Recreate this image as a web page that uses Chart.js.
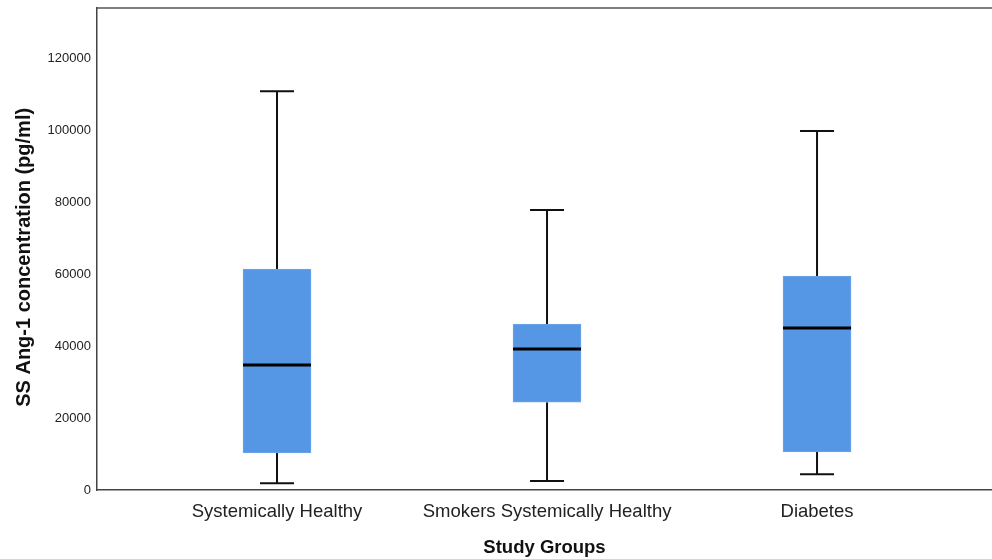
<!DOCTYPE html>
<html>
<head>
<meta charset="utf-8">
<script src="https://cdn.jsdelivr.net/npm/chart.js@4"></script>
<style>
  html, body { margin: 0; padding: 0; background: #fff; }
  #wrap { width: 992px; height: 559px; }
</style>
</head>
<body>
<div id="wrap"><canvas id="boxChart"></canvas></div>
<script>
const groups = ['Systemically Healthy', 'Smokers Systemically Healthy', 'Diabetes'];
const whiskerLow = [1900, 2500, 4400];
const q1 = [10300, 24400, 10600];
const median = [34700, 39200, 45000];
const q3 = [61400, 46100, 59400];
const whiskerHigh = [110800, 77800, 99700];
const yTicks = [0, 20000, 40000, 60000, 80000, 100000, 120000];

document.addEventListener('DOMContentLoaded', function() {
    const ctx = document.getElementById('boxChart').getContext('2d');

    // whiskers, caps, medians and the top frame line, placed through the scales
    const boxExtras = {
        id: 'boxExtras',
        beforeDatasetsDraw(chart) {
            const x = chart.scales.x, y = chart.scales.y, c = chart.ctx;
            c.save();
            c.strokeStyle = '#111';
            c.lineWidth = 2;
            groups.forEach(function(g, i) {
                const px = x.getPixelForValue(i + 1);
                const half = 17;
                c.beginPath();
                c.moveTo(px, y.getPixelForValue(whiskerHigh[i]));
                c.lineTo(px, y.getPixelForValue(q3[i]));
                c.moveTo(px, y.getPixelForValue(q1[i]));
                c.lineTo(px, y.getPixelForValue(whiskerLow[i]));
                c.moveTo(px - half, y.getPixelForValue(whiskerHigh[i]));
                c.lineTo(px + half, y.getPixelForValue(whiskerHigh[i]));
                c.moveTo(px - half, y.getPixelForValue(whiskerLow[i]));
                c.lineTo(px + half, y.getPixelForValue(whiskerLow[i]));
                c.stroke();
            });
            c.restore();
        },
        afterDatasetsDraw(chart) {
            const x = chart.scales.x, y = chart.scales.y, c = chart.ctx;
            const area = chart.chartArea;
            c.save();
            c.strokeStyle = '#000';
            c.lineWidth = 3;
            groups.forEach(function(g, i) {
                const px = x.getPixelForValue(i + 1);
                const py = y.getPixelForValue(median[i]);
                c.beginPath();
                c.moveTo(px - 34, py);
                c.lineTo(px + 34, py);
                c.stroke();
            });
            c.strokeStyle = '#555';
            c.lineWidth = 1.5;
            c.beginPath();
            c.moveTo(area.left, area.top);
            c.lineTo(area.right, area.top);
            c.stroke();
            c.restore();
        }
    };

    new Chart(ctx, {
        type: 'bar',
        data: {
            datasets: [{
                label: 'IQR',
                data: groups.map(function(g, i) { return { x: i + 1, y: [q1[i], q3[i]] }; }),
                backgroundColor: '#5596e5',
                borderColor: '#6fa6ea',
                borderWidth: 1,
                borderSkipped: false,
                barThickness: 68
            }]
        },
        options: {
            responsive: true,
            maintainAspectRatio: false,
            animation: false,
            layout: { padding: { top: 8, right: 0, bottom: 0, left: 0 } },
            plugins: {
                legend: { display: false },
                tooltip: { enabled: false }
            },
            scales: {
                x: {
                    type: 'linear',
                    offset: false,
                    min: 0.3333,
                    max: 3.648,
                    afterBuildTicks: function(scale) {
                        scale.ticks = groups.map(function(g, i) { return { value: i + 1 }; });
                    },
                    afterFit: function(scale) {
                        scale.height = 69;
                        scale.paddingLeft = 0;
                        scale.paddingRight = 0;
                    },
                    grid: { display: false, drawTicks: false },
                    border: { display: true, color: '#444', width: 1.5 },
                    ticks: {
                        padding: 11,
                        color: '#222',
                        font: { family: 'Liberation Sans', size: 18.5 },
                        maxRotation: 0,
                        autoSkip: false,
                        callback: function(v) { return groups[v - 1] || ''; }
                    },
                    title: {
                        display: true,
                        text: 'Study Groups',
                        color: '#111',
                        font: { family: 'Liberation Sans', size: 18.5, weight: 'bold' },
                        padding: { top: 7, bottom: 0 }
                    }
                },
                y: {
                    min: 0,
                    max: 133900,
                    afterBuildTicks: function(scale) {
                        scale.ticks = yTicks.map(function(v) { return { value: v }; });
                    },
                    afterFit: function(scale) {
                        scale.width = 97;
                        scale.paddingTop = 0;
                        scale.paddingBottom = 0;
                    },
                    grid: { display: false, drawTicks: false },
                    border: { display: true, color: '#444', width: 1.5 },
                    ticks: {
                        padding: 6,
                        color: '#222',
                        font: { family: 'Liberation Sans', size: 13 },
                        callback: function(v) { return String(v); }
                    },
                    title: {
                        display: true,
                        text: 'SS Ang-1 concentration (pg/ml)\u00a0\u00a0\u00a0',
                        color: '#111',
                        font: { family: 'Liberation Sans', size: 20, weight: 'bold' },
                        padding: { top: 12, bottom: 0 }
                    }
                }
            }
        },
        plugins: [boxExtras]
    });
});
</script>
</body>
</html>
